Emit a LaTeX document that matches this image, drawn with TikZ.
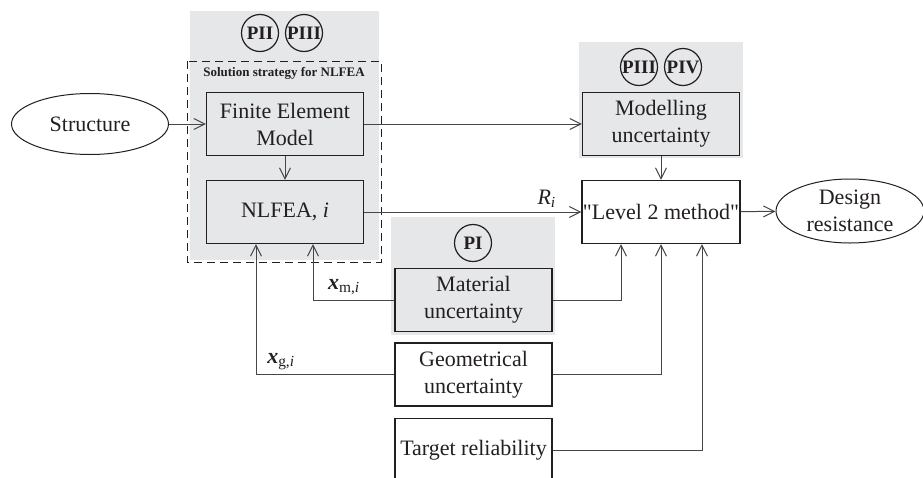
\documentclass[tikz,border=0pt]{standalone}
\usepackage{fontspec}
\setmainfont{Liberation Serif}
\newfontfamily\rawserif{Liberation Serif}[Ligatures=TeXOff]
\usetikzlibrary{arrows.meta,shapes.geometric,positioning}
\definecolor{panelgray}{RGB}{230,231,232}
\definecolor{linegray}{RGB}{70,70,70}
\definecolor{inkblack}{RGB}{35,31,32}
\tikzset{
  every picture/.append style={font=\fontsize{22}{27}\selectfont,text=inkblack},
  blk/.style={draw=inkblack,line width=1.1pt,minimum width=157pt,minimum height=63pt,
    align=center,inner sep=1pt},
  shaded/.style={blk,fill=panelgray},
  oval/.style={ellipse,draw=inkblack,line width=1pt,align=center,inner sep=0pt},
  paper/.style={circle,draw=inkblack,line width=1.2pt,minimum size=37pt,inner sep=0pt,
    font=\fontsize{19}{19}\selectfont\bfseries},
  panel/.style={fill=panelgray},
  arr/.style={draw=linegray,line width=1pt,-{Straight Barb[length=11pt,width=11pt]}}
}
\begin{document}
\begin{tikzpicture}[x=1pt,y=-1pt]
\useasboundingbox (0,0) rectangle (923,477);
% grey panels for the papers
\fill[panel] (190,11) rectangle (379,260);
\fill[panel] (579,42) rectangle (743,158);
\fill[panel] (391,217) rectangle (555,335);
\draw[inkblack,line width=1pt,dash pattern=on 8pt off 5pt] (187,61) rectangle (381,262);
\node[font=\fontsize{13}{13}\selectfont\bfseries] (strat) at (284,73) {Solution strategy for NLFEA};
\node[paper] (p2) at (260,33) {PII};
\node[paper] (p3a) at (304,33) {PIII};
\node[paper] (p3b) at (639,67) {PIII};
\node[paper] (p4) at (683,67) {PIV};
\node[paper] (p1) at (473,243) {PI};
% blocks
\node[oval,minimum width=157pt,minimum height=61pt] (struct) at (90,124) {Structure};
\node[shaded] (fem) at (285,124) {Finite Element\\Model};
\node[shaded] (nlfea) at (285,212) {NLFEA, \textit{i}};
\node[shaded] (model) at (661,124) {Modelling\\uncertainty};
\node[blk,font=\fontsize{22}{27}\rawserif] (level) at (661,212) {"Level 2 method"};
\node[oval,minimum width=148pt,minimum height=64pt] (design) at (850,211) {Design\\resistance};
\node[shaded] (mat) at (473.5,300) {Material\\uncertainty};
\node[blk] (geo) at (473.5,374.5) {Geometrical\\uncertainty};
\node[blk] (target) at (473.5,450) {Target reliability};
% connectors
\draw[arr] (struct) -- (fem);
\draw[arr] (fem) -- (nlfea);
\draw[arr] (fem) -- (model);
\draw[arr] (model) -- (level);
\draw[arr] (nlfea) -- node[pos=0.84,above=1pt] (ri) {\textit{R}\textsubscript{\textit{i}}} (level);
\draw[arr] (level) -- (design);
\draw[arr] (mat.west) -| node[pos=0.31,above=1pt] (xm) {{\bfseries\itshape x}\textsubscript{m,\textit{i}}} ([xshift=28pt]nlfea.south);
\draw[arr] (geo.west) -| node[pos=0.41,above=1pt] (xg) {{\bfseries\itshape x}\textsubscript{g,\textit{i}}} ([xshift=-29pt]nlfea.south);
\draw[arr] (mat.east) -| ([xshift=-40pt]level.south);
\draw[arr] (geo.east) -| (level.south);
\draw[arr] (target.east) -| ([xshift=41pt]level.south);
\end{tikzpicture}
\end{document}
